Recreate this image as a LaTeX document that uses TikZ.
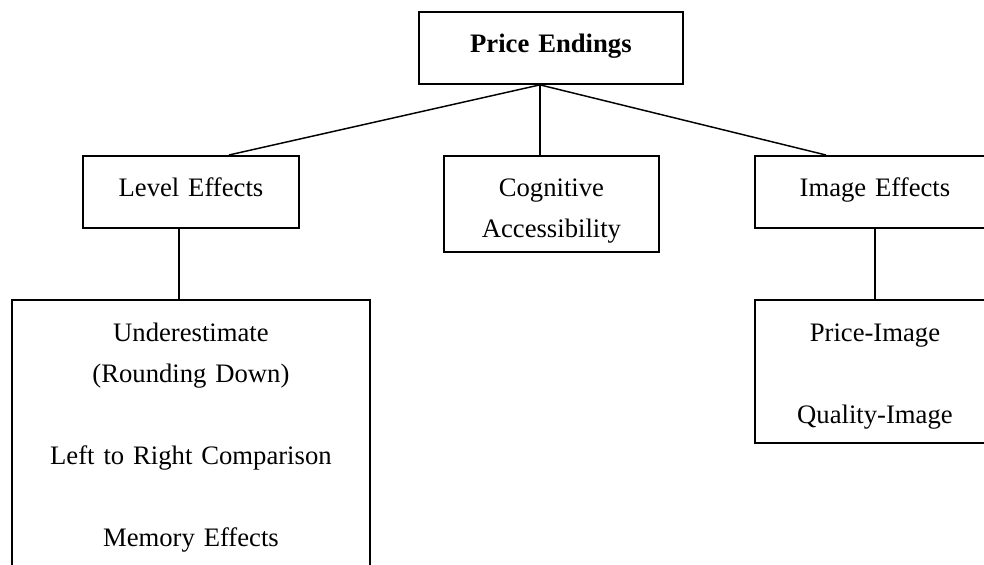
\documentclass[tikz,border=0pt]{standalone}
\usepackage{fontspec}
\setmainfont{Liberation Serif}
\usepackage{tikz}
\usetikzlibrary{calc}
\tikzset{
  box/.style={rectangle, draw=black, line width=1.4pt, inner sep=0pt, anchor=north west, align=center, font=\fontsize{20}{30.75}\selectfont},
  link/.style={line width=1.1pt},
}

\begin{document}
\begin{tikzpicture}[x=0.75pt, y=-0.75pt]
  \useasboundingbox (0,0) rectangle (984,564);
  \clip (0,0) rectangle (984,564);
  % top
  \node[box, text width=198pt, text height=30.75pt, text depth=23.25pt] (pe) at (418,11) {\textbf{Price Endings}};
  % second row
  \node[box, text width=162pt, text height=30.75pt, text depth=23.25pt] (level) at (82,155) {Level Effects};
  \node[box, text width=161.25pt, text height=30.75pt, text depth=41.25pt] (cog) at (443,155) {Cognitive\\Accessibility};
  \node[box, text width=180pt, text height=30.75pt, text depth=23.25pt] (image) at (754,155) {Image Effects};
  % third row
  \node[box, text width=268.5pt, text height=31.5pt, text depth=209.25pt] (under) at (11,299) {
    Underestimate\\(Rounding Down)\\[30.75pt]Left to Right Comparison\\[30.75pt]Memory Effects};
  \node[box, text width=180pt, text height=31.5pt, text depth=75.75pt] (pimg) at (754,299) {Price-Image\\[30.75pt]Quality-Image};
  % connectors
  \coordinate (hub) at ($(pe.south)+(-11,0)$);
  \coordinate (lv) at ($(level.south)+(-12,0)$);
  \draw[link] (hub) -- ($(level.north)+(38,0)$);
  \draw[link] (hub) -- (hub |- cog.north);
  \draw[link] (hub) -- ($(image.north)+(-49,0)$);
  \draw[link] (lv) -- (lv |- under.north);
  \draw[link] (image.south) -- (pimg.north);
\end{tikzpicture}
\end{document}
